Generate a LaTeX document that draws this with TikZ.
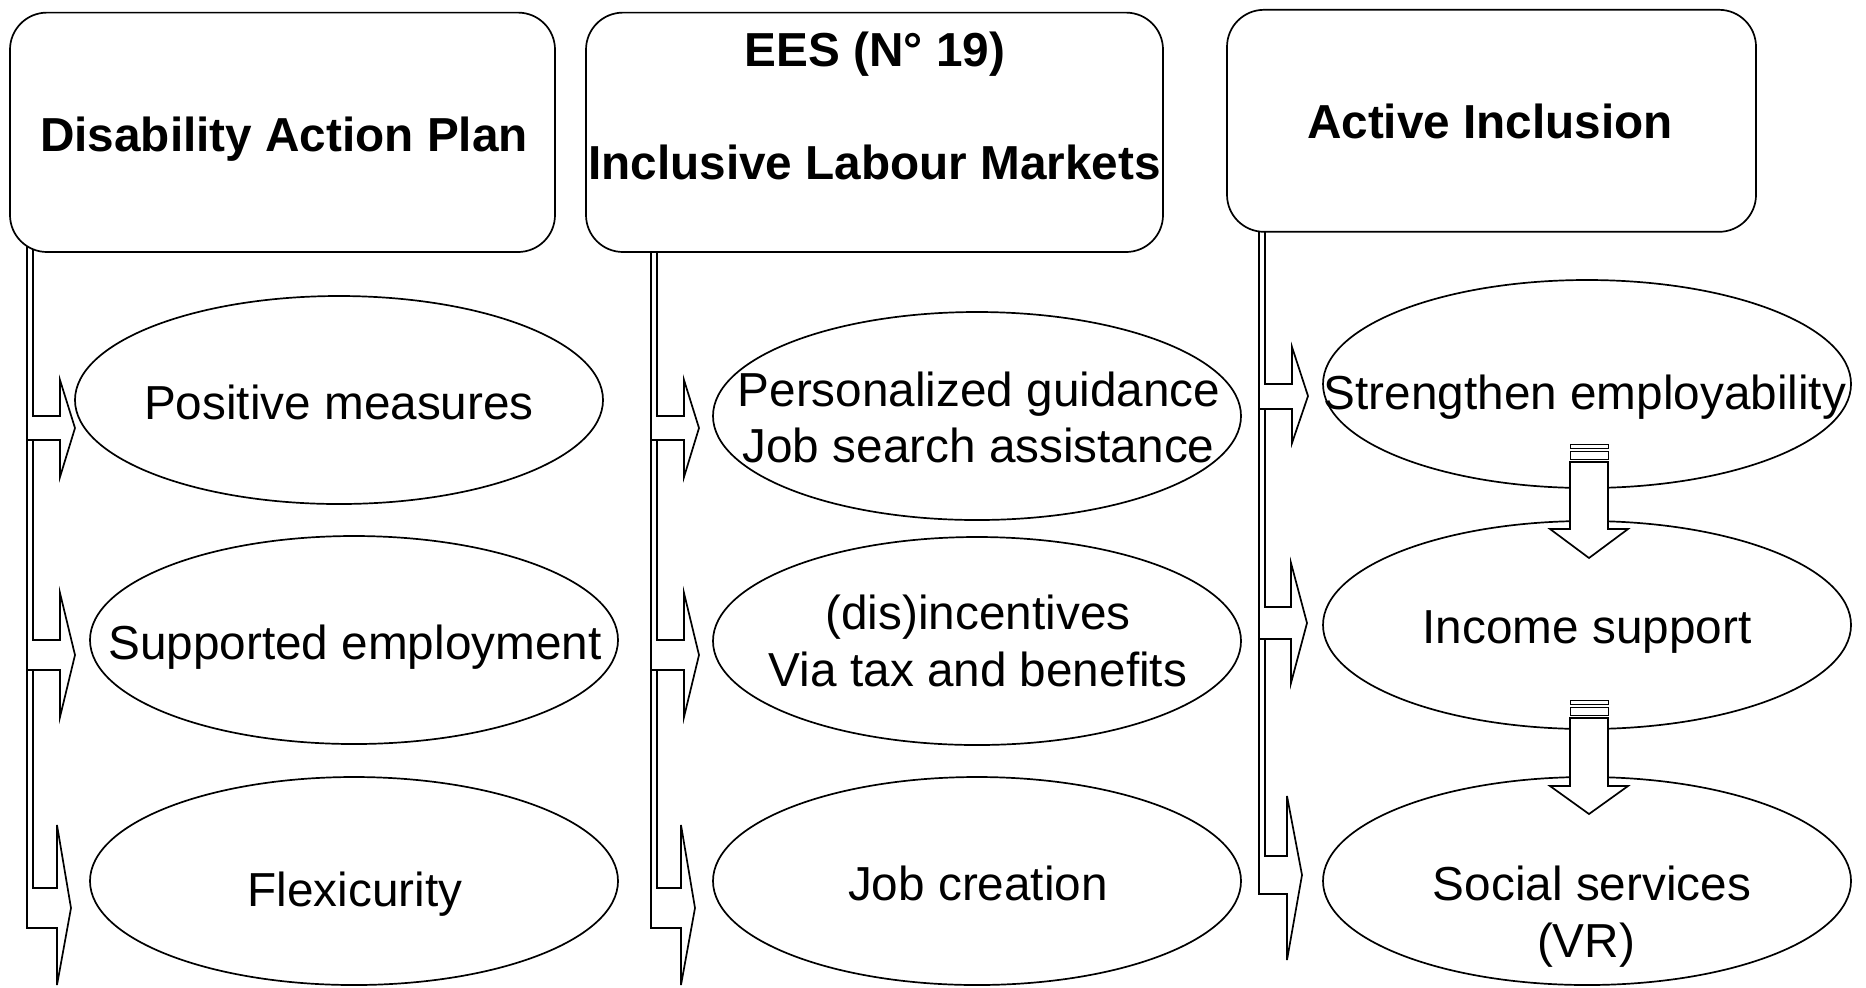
\documentclass[tikz,border=0pt]{standalone}
\usepackage{fontspec}
\setmainfont{Liberation Sans}
\usetikzlibrary{shapes.geometric}
\begin{document}
\begin{tikzpicture}[x=0.5pt,y=-0.5pt, line width=0.85pt,
  box/.style={draw, fill=white, rounded corners=18.5pt, inner sep=0pt},
  ell/.style={ellipse, draw, fill=white, minimum width=264pt, minimum height=104pt, inner sep=0pt},
  txt/.style={anchor=base, inner sep=0pt, font=\fontsize{23.85}{28.3}\selectfont},
  btxt/.style={anchor=base, inner sep=0pt, font=\fontsize{23.85}{28.3}\selectfont\bfseries},
  blk/.style={draw, fill=white, line join=miter},
  stripe/.style={draw, fill=white, line width=0.5pt}]
\useasboundingbox (0,0) rectangle (1866,987);

% ---- bent block arrows, column 1 ----
\path[blk] (27,240) -- (27,928) -- (57,928) -- (57,985) -- (71,908) -- (57,825) -- (57,888) -- (33,888) -- (33,240) -- cycle;
\path[blk] (27,240) -- (27,670) -- (60,670) -- (60,717) -- (75,655) -- (60,593) -- (60,640) -- (33,640) -- (33,240) -- cycle;
\path[blk] (27,240) -- (27,440) -- (60,440) -- (60,477) -- (75,428) -- (60,380) -- (60,416) -- (33,416) -- (33,240) -- cycle;
% ---- column 2 ----
\path[blk] (651,240) -- (651,928) -- (681,928) -- (681,985) -- (695,908) -- (681,825) -- (681,888) -- (657,888) -- (657,240) -- cycle;
\path[blk] (651,240) -- (651,670) -- (684,670) -- (684,717) -- (699,655) -- (684,593) -- (684,640) -- (657,640) -- (657,240) -- cycle;
\path[blk] (651,240) -- (651,440) -- (684,440) -- (684,477) -- (699,428) -- (684,380) -- (684,416) -- (657,416) -- (657,240) -- cycle;
% ---- column 3 ----
\path[blk] (1259,220) -- (1259,894) -- (1287,894) -- (1287,960) -- (1302,875) -- (1287,796) -- (1287,856) -- (1265,856) -- (1265,220) -- cycle;
\path[blk] (1259,220) -- (1259,639) -- (1291,639) -- (1291,683) -- (1307,623) -- (1291,563) -- (1291,607) -- (1265,607) -- (1265,220) -- cycle;
\path[blk] (1259,220) -- (1259,409) -- (1292,409) -- (1292,443) -- (1308,396) -- (1292,347) -- (1292,384) -- (1265,384) -- (1265,220) -- cycle;

% ---- header boxes ----
\node[box, minimum width=272.5pt, minimum height=119.7pt] (b1) at (282.5,132.3) {};
\node[box, minimum width=288.5pt, minimum height=119.7pt] (b2) at (874.5,132.3) {};
\node[box, minimum width=264.5pt, minimum height=111pt] (b3) at (1491.5,120.8) {};
\node[btxt] (t1) at (284,151) {Disability Action Plan};
\node[btxt] (t2a) at (875,66) {EES (N° 19)};
\node[btxt] (t2b) at (874.5,179) {Inclusive Labour Markets};
\node[btxt] (t3) at (1490,138) {Active Inclusion};

% ---- ellipses ----
\node[ell] (e1) at (339,400) {};
\node[ell] (e2) at (354,640) {};
\node[ell] (e3) at (354,881) {};
\node[ell] (e4) at (977,416) {};
\node[ell] (e5) at (977,641) {};
\node[ell] (e6) at (977,881) {};
\node[ell] (e7) at (1587,384) {};
\node[ell] (e8) at (1587,625) {};
\node[ell] (e9) at (1587,881) {};

\node[txt] (l1) at (339,419) {Positive measures};
\node[txt] (l2) at (355,659) {Supported employment};
\node[txt] (l3) at (355,906) {Flexicurity};
\node[txt] (l4a) at (979,406) {Personalized guidance};
\node[txt] (l4b) at (978.5,462) {Job search assistance};
\node[txt] (l5a) at (978,629) {(dis)incentives};
\node[txt] (l5b) at (978,686) {Via tax and benefits};
\node[txt] (l6) at (978,900) {Job creation};
\node[txt] (l7) at (1585,409) {Strengthen employability};
\node[txt] (l8) at (1587,643) {Income support};
\node[txt] (l9a) at (1592,900) {Social services};
\node[txt] (l9b) at (1586,957) {(VR)};

% ---- striped down arrows ----
\path[stripe] (1570,444) rectangle (1608,448.3);
\path[stripe] (1570,451.7) rectangle (1608,459.3);
\path[blk] (1570,462) -- (1570,529) -- (1550,529) -- (1589,558) -- (1628,529) -- (1608,529) -- (1608,462) -- cycle;
\path[stripe] (1570,700) rectangle (1608,704.3);
\path[stripe] (1570,707.7) rectangle (1608,715);
\path[blk] (1570,718) -- (1570,786) -- (1550,786) -- (1589,814) -- (1628,786) -- (1608,786) -- (1608,718) -- cycle;
\end{tikzpicture}
\end{document}
